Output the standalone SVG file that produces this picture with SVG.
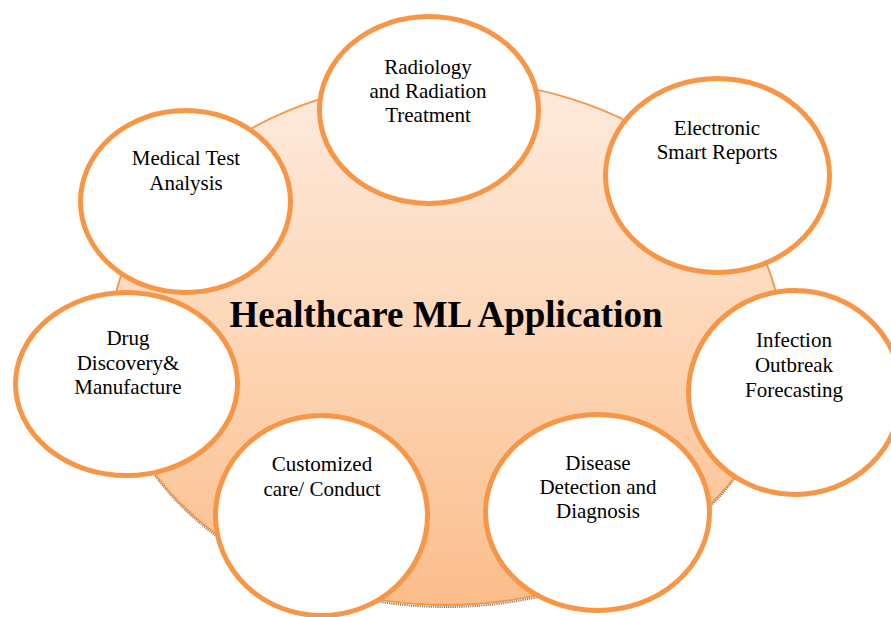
<svg xmlns="http://www.w3.org/2000/svg" width="891" height="617" viewBox="0 0 891 617">
  <defs>
    <linearGradient id="hubFill" x1="0" y1="0" x2="0" y2="1">
      <stop offset="0" stop-color="#fdebdd"/>
      <stop offset="0.5" stop-color="#fdd6b6"/>
      <stop offset="1" stop-color="#fbbd8b"/>
    </linearGradient>
  </defs>
  <style>
    .hub { fill: url(#hubFill); stroke: #f79646; stroke-width: 1.8; }
    .hub-shadow { fill: none; stroke: #7f7f7f; stroke-width: 2; stroke-dasharray: 1.2 1; }
    .node { fill: #ffffff; stroke: #f79646; stroke-width: 5; }
    .label { font-family: "Liberation Serif", "Times New Roman", serif; font-size: 21px; fill: #000000; text-anchor: middle; }
    .title { font-family: "Liberation Serif", "Times New Roman", serif; font-size: 37px; font-weight: bold; fill: #000000; text-anchor: middle; }
  </style>

  <rect width="891" height="617" fill="#ffffff"/>

  <!-- central hub -->
  <g id="hub">
    <ellipse class="hub-shadow" cx="446" cy="344" rx="336" ry="263"/>
    <ellipse class="hub" cx="446" cy="342.5" rx="336" ry="262.5"/>
    <text class="title" x="446" y="327">Healthcare ML Application</text>
  </g>

  <!-- connectors: none drawn, the nodes sit on the hub rim -->
  <g id="connectors"/>

  <g id="node-radiology">
    <ellipse class="node" cx="429" cy="110" rx="109.5" ry="93.5"/>
    <text class="label" x="428" y="74">Radiology</text>
    <text class="label" x="428" y="98">and Radiation</text>
    <text class="label" x="428" y="122">Treatment</text>
  </g>

  <g id="node-electronic">
    <ellipse class="node" cx="717.5" cy="175.5" rx="112" ry="97"/>
    <text class="label" x="717" y="135">Electronic</text>
    <text class="label" x="717" y="159">Smart Reports</text>
  </g>

  <g id="node-medical-test">
    <ellipse class="node" cx="185.5" cy="201.5" rx="105" ry="91"/>
    <text class="label" x="186" y="165">Medical Test</text>
    <text class="label" x="186" y="190">Analysis</text>
  </g>

  <g id="node-drug">
    <ellipse class="node" cx="126.5" cy="384" rx="111" ry="91.5"/>
    <text class="label" x="128" y="345">Drug</text>
    <text class="label" x="128" y="370">Discovery&amp;</text>
    <text class="label" x="128" y="394">Manufacture</text>
  </g>

  <g id="node-infection">
    <ellipse class="node" cx="795" cy="392.5" rx="106.5" ry="102"/>
    <text class="label" x="794" y="347">Infection</text>
    <text class="label" x="794" y="372">Outbreak</text>
    <text class="label" x="794" y="397">Forecasting</text>
  </g>

  <g id="node-customized">
    <ellipse class="node" cx="321.5" cy="515.5" rx="106" ry="100"/>
    <text class="label" x="322" y="471">Customized</text>
    <text class="label" x="322" y="496">care/ Conduct</text>
  </g>

  <g id="node-disease">
    <ellipse class="node" cx="597.5" cy="512.5" rx="112" ry="98"/>
    <text class="label" x="598" y="470">Disease</text>
    <text class="label" x="598" y="494">Detection and</text>
    <text class="label" x="598" y="518">Diagnosis</text>
  </g>
</svg>
